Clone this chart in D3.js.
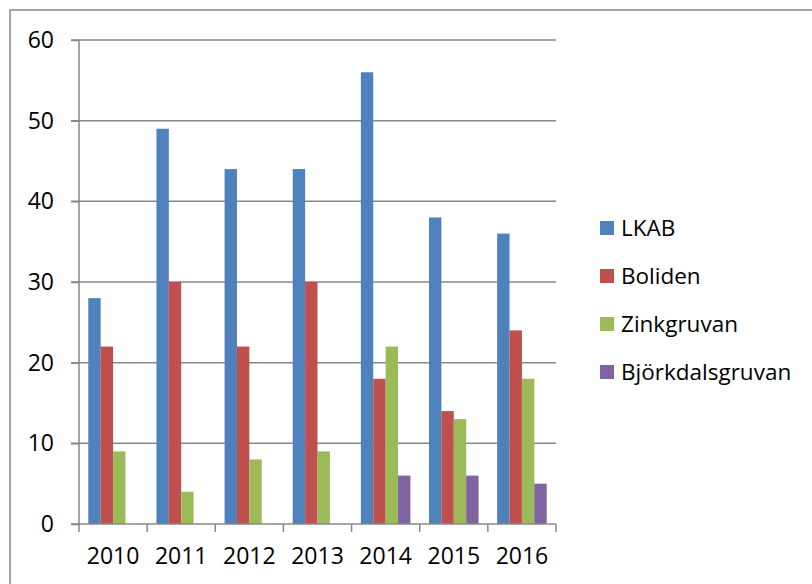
<!DOCTYPE html>
<html lang="sv">
<head>
<meta charset="UTF-8">
<title>Gruvor</title>
<script src="https://d3js.org/d3.v7.min.js"></script>
<style>
  body { margin: 0; background: #fff; }
  text { font-family: 'Open Sans', sans-serif; fill: #000; }
</style>
</head>
<body>
<svg width="812" height="584"></svg>
<script>
  // data
  const years = ["2010", "2011", "2012", "2013", "2014", "2015", "2016"];
  const series = ["LKAB", "Boliden", "Zinkgruvan", "Björkdalsgruvan"];
  const lkab = [28, 49, 44, 44, 56, 38, 36];
  const boliden = [22, 30, 22, 30, 18, 14, 24];
  const zink = [9, 4, 8, 9, 22, 13, 18];
  const bjork = [0, 0, 0, 0, 6, 6, 5];
  const yTicks = [0, 10, 20, 30, 40, 50, 60];
  const colors = ["#4F81BD", "#C0504D", "#9BBB59", "#8064A2"];

  const values = [lkab, boliden, zink, bjork];
  const rows = years.map((yr, i) => ({
    year: yr,
    vals: series.map((s, k) => ({ key: s, value: values[k][i] }))
  }));

  const svg = d3.select("svg");
  const plotLeft = 79, plotRight = 556, plotTop = 40, plotBottom = 524;

  // outer frame (runs off the right and bottom edge)
  svg.append("rect")
    .attr("x", 10).attr("y", 10)
    .attr("width", 900).attr("height", 700)
    .attr("fill", "none")
    .attr("stroke", "#888")
    .attr("stroke-width", 1.5);

  const x0 = d3.scaleBand().domain(years).range([plotLeft, plotRight]).padding(0);
  const x1 = d3.scaleBand().domain(series)
    .range([0, x0.bandwidth()])
    .paddingInner(0).paddingOuter(0.75);
  const y = d3.scaleLinear().domain([0, 60]).range([plotBottom, plotTop]);
  const color = d3.scaleOrdinal().domain(series).range(colors);

  // gridlines
  svg.append("g")
    .selectAll("line")
    .data(yTicks.filter(d => d > 0))
    .join("line")
    .attr("x1", plotLeft - 8).attr("x2", plotRight)
    .attr("y1", d => y(d)).attr("y2", d => y(d))
    .attr("stroke", "#888").attr("stroke-width", 1.5);

  // bars
  svg.append("g")
    .selectAll("g")
    .data(rows)
    .join("g")
    .attr("transform", d => `translate(${x0(d.year)},0)`)
    .selectAll("rect")
    .data(d => d.vals.filter(v => v.value > 0))
    .join("rect")
    .attr("x", d => x1(d.key))
    .attr("width", x1.bandwidth())
    .attr("y", d => y(d.value))
    .attr("height", d => y(0) - y(d.value))
    .attr("fill", d => color(d.key));

  // y axis
  const yAxis = svg.append("g")
    .attr("transform", `translate(${plotLeft},0)`)
    .call(d3.axisLeft(y).tickValues(yTicks).tickSize(8).tickPadding(17));
  yAxis.selectAll("line, path").attr("stroke", "#888").attr("stroke-width", 1.5);
  yAxis.select(".domain").attr("d", `M0,${plotTop}V${plotBottom}`);
  yAxis.selectAll("text").style("font-size", "23px").attr("fill", "#000");

  // x axis
  const xAxis = svg.append("g")
    .attr("transform", `translate(0,${plotBottom})`)
    .call(d3.axisBottom(x0).tickSize(0).tickPadding(24));
  xAxis.select(".domain").attr("d", `M${plotLeft - 8},0H${plotRight}`)
    .attr("stroke", "#888").attr("stroke-width", 1.5);
  xAxis.selectAll("text").style("font-size", "23px").attr("fill", "#000");
  // tick marks on band edges
  xAxis.selectAll(".edge")
    .data(years.map(d => x0(d)).concat([plotRight]))
    .join("line")
    .attr("class", "edge")
    .attr("x1", d => d).attr("x2", d => d)
    .attr("y1", 0).attr("y2", 8)
    .attr("stroke", "#888").attr("stroke-width", 1.5);

  // legend
  const legend = svg.append("g")
    .selectAll("g")
    .data(series)
    .join("g")
    .attr("transform", (d, i) => `translate(600,${228 + i * 48})`);
  legend.append("rect")
    .attr("x", 0).attr("y", -7)
    .attr("width", 14).attr("height", 14)
    .attr("fill", d => color(d));
  legend.append("text")
    .attr("x", 21).attr("y", 0)
    .attr("dy", "0.35em")
    .style("font-size", "22.5px")
    .text(d => d);
</script>
</body>
</html>
